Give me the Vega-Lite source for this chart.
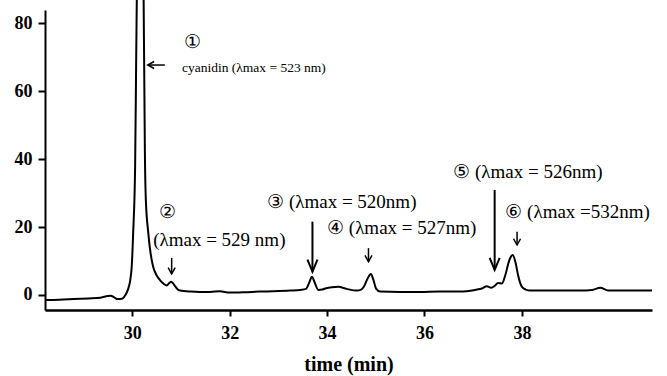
{
  "$schema": "https://vega.github.io/schema/vega-lite/v6.json",
  "width": 607,
  "height": 300,
  "autosize": {"type": "none"},
  "padding": {"left": 45, "top": 10, "right": 15, "bottom": 66},
  "background": "white",
  "config": {
    "view": {"stroke": null},
    "font": "Liberation Serif",
    "text": {"font": "Liberation Serif"},
    "axis": {
      "grid": false,
      "domainColor": "black",
      "tickColor": "black",
      "labelColor": "black",
      "titleColor": "black",
      "labelFont": "Liberation Serif",
      "titleFont": "Liberation Serif",
      "labelFontWeight": "bold",
      "titleFontWeight": "bold"
    }
  },
  "datasets": {
    "trace": [
      {"t": 28.21, "v": -1.5}, {"t": 28.5, "v": -1.4}, {"t": 28.8, "v": -1.2}, {"t": 29.1, "v": -1.0},
      {"t": 29.35, "v": -0.8}, {"t": 29.5, "v": -0.3}, {"t": 29.56, "v": -0.2}, {"t": 29.63, "v": -0.7},
      {"t": 29.7, "v": -1.2}, {"t": 29.79, "v": -1.1}, {"t": 29.86, "v": 0.0}, {"t": 29.91, "v": 1.5},
      {"t": 29.96, "v": 4.4}, {"t": 29.99, "v": 8.3}, {"t": 30.02, "v": 18.3}, {"t": 30.06, "v": 37.8},
      {"t": 30.08, "v": 67}, {"t": 30.1, "v": 95}, {"t": 30.165, "v": 200}, {"t": 30.23, "v": 95},
      {"t": 30.25, "v": 60}, {"t": 30.26, "v": 42.7}, {"t": 30.28, "v": 28}, {"t": 30.33, "v": 18.3},
      {"t": 30.38, "v": 12}, {"t": 30.43, "v": 8.3}, {"t": 30.5, "v": 5.8}, {"t": 30.57, "v": 4.4},
      {"t": 30.64, "v": 3.4}, {"t": 30.71, "v": 2.8}, {"t": 30.76, "v": 3.5}, {"t": 30.8, "v": 3.9},
      {"t": 30.84, "v": 3.4}, {"t": 30.88, "v": 2.6}, {"t": 30.93, "v": 1.7}, {"t": 30.98, "v": 1.3},
      {"t": 31.2, "v": 1.0}, {"t": 31.39, "v": 0.9}, {"t": 31.6, "v": 0.9}, {"t": 31.8, "v": 1.1},
      {"t": 32.0, "v": 0.7}, {"t": 32.3, "v": 0.8}, {"t": 32.62, "v": 1.0}, {"t": 32.9, "v": 1.1},
      {"t": 33.24, "v": 1.3}, {"t": 33.45, "v": 1.5}, {"t": 33.57, "v": 1.8}, {"t": 33.63, "v": 3.5},
      {"t": 33.69, "v": 5.4}, {"t": 33.75, "v": 3.5}, {"t": 33.82, "v": 1.5}, {"t": 33.9, "v": 1.6},
      {"t": 33.96, "v": 1.9}, {"t": 34.1, "v": 2.3}, {"t": 34.23, "v": 2.4}, {"t": 34.4, "v": 1.8},
      {"t": 34.61, "v": 1.3}, {"t": 34.7, "v": 1.6}, {"t": 34.76, "v": 2.6}, {"t": 34.83, "v": 4.8},
      {"t": 34.9, "v": 6.2}, {"t": 34.95, "v": 4.5}, {"t": 35.01, "v": 1.8}, {"t": 35.09, "v": 1.0},
      {"t": 35.5, "v": 0.9}, {"t": 35.91, "v": 0.9}, {"t": 36.3, "v": 1.0}, {"t": 36.73, "v": 1.0},
      {"t": 37.04, "v": 1.5}, {"t": 37.18, "v": 1.9}, {"t": 37.28, "v": 2.6}, {"t": 37.37, "v": 2.1},
      {"t": 37.45, "v": 2.8}, {"t": 37.51, "v": 3.5}, {"t": 37.59, "v": 3.4}, {"t": 37.66, "v": 5.9},
      {"t": 37.74, "v": 10.2}, {"t": 37.81, "v": 11.8}, {"t": 37.87, "v": 9.5}, {"t": 37.92, "v": 5.9},
      {"t": 38.0, "v": 2.4}, {"t": 38.08, "v": 1.6}, {"t": 38.17, "v": 1.3}, {"t": 38.6, "v": 1.3},
      {"t": 39.19, "v": 1.3}, {"t": 39.44, "v": 1.5}, {"t": 39.61, "v": 2.1}, {"t": 39.77, "v": 1.3},
      {"t": 40.2, "v": 1.3}, {"t": 40.67, "v": 1.3}
    ],
    "notesLarge": [
      {"t": 31.06, "v": 74.6, "label": "①"},
      {"t": 30.54, "v": 24.5, "label": "②"},
      {"t": 30.43, "v": 16.2, "label": "(λmax = 529 nm)"},
      {"t": 32.77, "v": 27.4, "label": "③ (λmax = 520nm)"},
      {"t": 34.0, "v": 19.6, "label": "④ (λmax = 527nm)"},
      {"t": 36.59, "v": 36.3, "label": "⑤ (λmax = 526nm)"},
      {"t": 37.66, "v": 24.5, "label": "⑥ (λmax =532nm)"}
    ],
    "notesSmall": [
      {"t": 31.02, "v": 66.8, "label": "cyanidin (λmax = 523 nm)"}
    ],
    "longArrows": [
      {"t": 33.7, "v": 21.6, "v2": 6.9},
      {"t": 37.44, "v": 30.9, "v2": 7.4}
    ],
    "shortArrows": [
      {"t": 30.81, "v": 10.9, "v2": 6.2},
      {"t": 34.85, "v": 13.8, "v2": 9.8},
      {"t": 37.9, "v": 18.6, "v2": 14.7}
    ],
    "leftArrow": [
      {"t": 30.32, "t2": 30.67, "v": 67.7}
    ]
  },
  "layer": [
    {
      "data": {"name": "trace"},
      "mark": {"type": "line", "color": "black", "strokeWidth": 2, "clip": false, "interpolate": "monotone"},
      "encoding": {
        "x": {
          "field": "t", "type": "quantitative",
          "scale": {"domain": [28.21, 40.67], "nice": false, "zero": false},
          "axis": {"values": [30, 32, 34, 36, 38], "title": "time (min)", "tickSize": 6, "tickWidth": 2, "domainWidth": 2.5, "labelFontSize": 18, "titleFontSize": 20, "labelPadding": 8, "titlePadding": 12, "labelFlush": false}
        },
        "y": {
          "field": "v", "type": "quantitative",
          "scale": {"domain": [-4.42, 83.9], "nice": false, "zero": false},
          "axis": {"values": [0, 20, 40, 60, 80], "title": null, "tickSize": 7, "tickWidth": 2, "domainWidth": 2, "labelFontSize": 18, "labelPadding": 6}
        }
      }
    },
    {
      "data": {"name": "longArrows"},
      "mark": {"type": "rule", "color": "black", "strokeWidth": 2},
      "encoding": {
        "x": {"field": "t", "type": "quantitative", "scale": {"domain": [28.21, 40.67], "nice": false, "zero": false}},
        "y": {"field": "v", "type": "quantitative", "scale": {"domain": [-4.42, 83.9], "nice": false, "zero": false}},
        "y2": {"field": "v2"}
      }
    },
    {
      "data": {"name": "longArrows"},
      "mark": {"type": "point", "shape": "M -1 -2.4 L 0 0 L 1 -2.4", "filled": false, "color": "black", "size": 100, "strokeWidth": 2, "opacity": 1},
      "encoding": {
        "x": {"field": "t", "type": "quantitative", "scale": {"domain": [28.21, 40.67], "nice": false, "zero": false}},
        "y": {"field": "v2", "type": "quantitative", "scale": {"domain": [-4.42, 83.9], "nice": false, "zero": false}}
      }
    },
    {
      "data": {"name": "shortArrows"},
      "mark": {"type": "rule", "color": "black", "strokeWidth": 1.5},
      "encoding": {
        "x": {"field": "t", "type": "quantitative", "scale": {"domain": [28.21, 40.67], "nice": false, "zero": false}},
        "y": {"field": "v", "type": "quantitative", "scale": {"domain": [-4.42, 83.9], "nice": false, "zero": false}},
        "y2": {"field": "v2"}
      }
    },
    {
      "data": {"name": "shortArrows"},
      "mark": {"type": "point", "shape": "M -1 -1.8 L 0 0 L 1 -1.8", "filled": false, "color": "black", "size": 49, "strokeWidth": 1.5, "opacity": 1},
      "encoding": {
        "x": {"field": "t", "type": "quantitative", "scale": {"domain": [28.21, 40.67], "nice": false, "zero": false}},
        "y": {"field": "v2", "type": "quantitative", "scale": {"domain": [-4.42, 83.9], "nice": false, "zero": false}}
      }
    },
    {
      "data": {"name": "leftArrow"},
      "mark": {"type": "rule", "color": "black", "strokeWidth": 1.5},
      "encoding": {
        "x": {"field": "t", "type": "quantitative", "scale": {"domain": [28.21, 40.67], "nice": false, "zero": false}},
        "x2": {"field": "t2"},
        "y": {"field": "v", "type": "quantitative", "scale": {"domain": [-4.42, 83.9], "nice": false, "zero": false}}
      }
    },
    {
      "data": {"name": "leftArrow"},
      "mark": {"type": "point", "shape": "M 1.8 -1 L 0 0 L 1.8 1", "filled": false, "color": "black", "size": 49, "strokeWidth": 1.5, "opacity": 1},
      "encoding": {
        "x": {"field": "t", "type": "quantitative", "scale": {"domain": [28.21, 40.67], "nice": false, "zero": false}},
        "y": {"field": "v", "type": "quantitative", "scale": {"domain": [-4.42, 83.9], "nice": false, "zero": false}}
      }
    },
    {
      "data": {"name": "notesLarge"},
      "mark": {"type": "text", "font": "Liberation Serif", "fontSize": 19, "align": "left", "baseline": "middle", "color": "black"},
      "encoding": {
        "x": {"field": "t", "type": "quantitative", "scale": {"domain": [28.21, 40.67], "nice": false, "zero": false}},
        "y": {"field": "v", "type": "quantitative", "scale": {"domain": [-4.42, 83.9], "nice": false, "zero": false}},
        "text": {"field": "label"}
      }
    },
    {
      "data": {"name": "notesSmall"},
      "mark": {"type": "text", "font": "Liberation Serif", "fontSize": 13.5, "align": "left", "baseline": "middle", "color": "black"},
      "encoding": {
        "x": {"field": "t", "type": "quantitative", "scale": {"domain": [28.21, 40.67], "nice": false, "zero": false}},
        "y": {"field": "v", "type": "quantitative", "scale": {"domain": [-4.42, 83.9], "nice": false, "zero": false}},
        "text": {"field": "label"}
      }
    }
  ]
}
